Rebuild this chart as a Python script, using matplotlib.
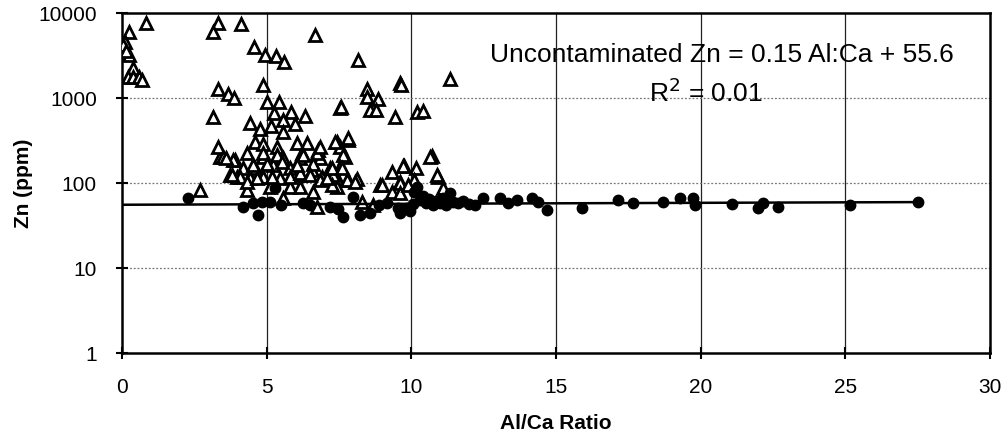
import numpy as np
import matplotlib
matplotlib.use("Agg")
import matplotlib.pyplot as plt
from matplotlib.ticker import FixedLocator, NullLocator

plt.rcParams['font.family'] = ['Liberation Sans', 'DejaVu Sans']

# contaminated samples (open triangles): Al/Ca ratio, Zn ppm
tri_x = [0.83, 0.24, 0.10, 0.03, 0.03, 0.24, 0.05, 0.15, 0.38, 0.21, 0.38, 0.59, 0.69,
         3.32, 3.15, 4.11, 4.56, 4.94, 5.32, 5.6, 6.67, 8.16, 9.61, 11.34, 3.32, 3.66,
         3.87, 4.87, 8.47, 8.47, 8.85, 9.64, 10.2, 10.4,
         3.15, 4.42, 5.01, 5.43, 5.25, 5.84, 6.33, 5.57, 5.98, 4.77, 5.15, 5.57, 7.54,
         8.57, 8.78, 9.44, 7.57,
         4.6, 4.87, 6.05, 6.39, 7.43, 7.81, 7.54, 5.36, 6.78, 7.71, 4.32, 3.91, 4.87,
         5.57, 6.15, 6.84, 4.18, 4.6, 5.22, 5.81, 6.57, 7.19, 3.98, 4.42, 4.87, 5.46,
         6.15, 6.91, 7.43, 7.81, 8.12, 5.81, 6.15, 7.43, 6.6,
         7.36, 7.81, 7.64, 6.74, 6.22, 6.84, 7.19, 7.54, 6.6, 9.33, 9.75, 10.16, 8.92,
         9.61, 9.33, 7.78, 8.05, 7.29, 7.26, 6.84, 10.72, 10.92, 11.1,
         2.7, 4.32, 5.12, 5.57, 6.74, 7.08, 7.26, 7.61, 8.3, 8.68, 8.99, 9.61, 9.61,
         9.71, 10.65, 10.89, 3.39, 3.84, 4.87, 5.36, 6.26, 3.73, 4.08, 4.32, 4.66, 5.19,
         5.81, 6.15, 6.5, 4.53, 5.01, 5.53, 6.05, 3.32, 3.49, 3.8, 3.6, 10.1, 9.9]
tri_y = [7600, 6000, 4560, 3880, 3390, 3220, 4200, 3600, 2240, 1770, 1770, 1770, 1620,
         7600, 6000, 7400, 3980, 3200, 3120, 2640, 5500, 2800, 1500, 1660, 1280, 1110,
         1000, 1420, 1280, 1030, 980, 1420, 684, 703,
         600, 510, 897, 897, 665, 684, 614, 551, 494, 432, 469, 398, 760,
         720, 720, 600, 784,
         303, 285, 296, 296, 304, 321, 265, 265, 245, 202, 225, 186, 202,
         197, 197, 197, 150, 150, 163, 150, 142, 142, 118, 114, 118, 114,
         124, 118, 114, 108, 111, 90, 90, 90, 78,
         302, 337, 213, 225, 225, 265, 150, 155, 170, 135, 158, 150, 95,
         103, 78, 108, 103, 124, 95, 108, 208, 118, 87,
         83, 83, 90, 66, 52, 114, 150, 150, 60, 55, 95, 100, 76,
         160, 202, 124, 202, 186, 225, 213, 213, 124, 118, 103, 114, 118,
         118, 133, 124, 163, 170, 175, 163, 265, 202, 124, 197, 110, 95]

# uncontaminated samples (filled circles)
circ_x = [2.28, 4.18, 4.53, 4.7, 4.84, 5.12, 5.29, 5.5, 6.26, 6.5, 7.19, 7.47, 7.64,
          8.0, 8.23, 8.57, 8.9, 9.16, 9.54, 9.6, 9.85, 9.95, 10.05, 10.2, 10.1, 10.3,
          10.4, 10.5, 10.6, 10.75, 10.85, 11.0, 11.1, 11.2, 11.34, 11.45, 11.6, 11.8,
          12.0, 12.2, 12.48, 13.07, 13.34, 13.65, 14.17, 14.38, 14.69, 15.9, 17.14,
          17.66, 18.7, 19.29, 19.74, 19.8, 21.1, 22.0, 22.16, 22.68, 25.16, 27.5]
circ_y = [66, 52, 58, 42, 60, 60, 87, 55, 58, 55, 52, 50, 40,
          68, 42, 44, 55, 58, 51, 45, 51, 47, 56, 90, 78, 63,
          70, 58, 65, 55, 62, 58, 66, 55, 76, 60, 58, 62,
          57, 55, 66, 66, 58, 63, 66, 60, 48, 51, 63,
          58, 60, 66, 66, 55, 57, 51, 58, 52, 55, 60]

slope, intercept = 0.15, 55.6
x_ticks = [0, 5, 10, 15, 20, 25, 30]
y_ticks = [1, 10, 100, 1000, 10000]


def main():
    fig = plt.figure(figsize=(10.08, 4.38), dpi=100)
    ax = fig.add_axes([0.121, 0.194, 0.861, 0.776])

    ax.set_yscale('log')
    ax.set_xlim(0, 30)
    ax.set_ylim(1, 10000)

    # grid: solid verticals, dotted horizontals
    for xv in x_ticks[1:-1]:
        ax.axvline(xv, color='#222222', lw=0.9, zorder=1)
    for yv in y_ticks[1:-1]:
        ax.axhline(yv, color='#777777', lw=0.9, ls=(0, (1.5, 1.5)), zorder=1)

    ax.plot(tri_x, tri_y, ls='none', marker='^', ms=8, mfc='white', mec='black',
            mew=2.0, zorder=3)
    ax.plot(circ_x, circ_y, ls='none', marker='o', ms=7.5, mfc='black', mec='black',
            zorder=4)

    fx = np.array([0, max(circ_x)])
    ax.plot(fx, slope * fx + intercept, color='black', lw=1.8, zorder=5)

    ax.text(20.74, 3200, "Uncontaminated Zn = 0.15 Al:Ca + 55.6", ha='center',
            va='center', fontsize=19, zorder=6)
    ax.text(20.2, 1150, "R$^2$ = 0.01", ha='center', va='center', fontsize=19, zorder=6)

    ax.xaxis.set_major_locator(FixedLocator(x_ticks))
    ax.yaxis.set_major_locator(FixedLocator(y_ticks))
    ax.yaxis.set_minor_locator(NullLocator())
    ax.set_xticklabels([str(v) for v in x_ticks])
    ax.set_yticklabels([str(v) for v in y_ticks])
    ax.tick_params(direction='inout', length=8, width=1.5, labelsize=15)
    ax.tick_params(axis='x', pad=14)
    ax.tick_params(axis='y', pad=14)

    for sp in ax.spines.values():
        sp.set_linewidth(1.8)

    ax.set_xlabel("Al/Ca Ratio", fontsize=15, fontweight='bold', labelpad=12)
    ax.set_ylabel("Zn (ppm)", fontsize=15, fontweight='bold', labelpad=4)

    fig.savefig("out.png", dpi=100)
    plt.close(fig)


if __name__ == "__main__":
    main()
